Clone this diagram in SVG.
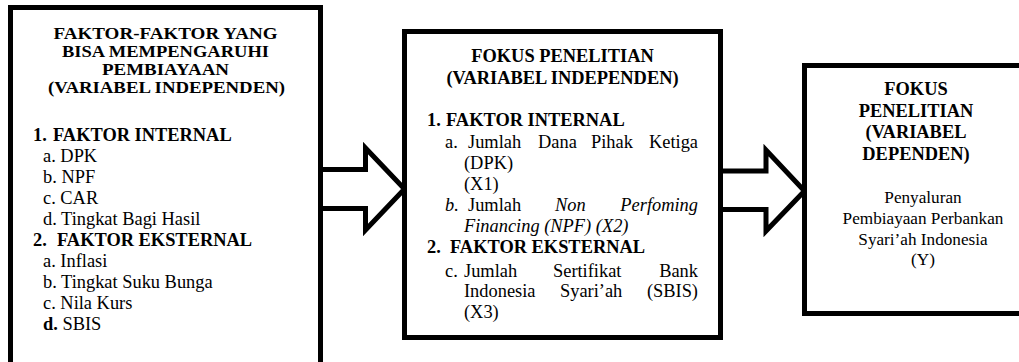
<svg xmlns="http://www.w3.org/2000/svg" width="1019" height="362" viewBox="0 0 1019 362">
  <style>
    .box { fill: #fff; stroke: #000; stroke-width: 5; }
    .arrow { fill: #fff; stroke: #000; stroke-width: 5; stroke-linejoin: miter; stroke-miterlimit: 10; }
    text { font-family: "Liberation Serif", "Times New Roman", serif; font-size: 18.4px; fill: #000; }
    .b { font-weight: bold; }
    .c { text-anchor: middle; }
    .i { font-style: italic; }
    .s { font-size: 17.2px; }
    .t { font-size: 16.6px; }
  </style>

  <rect width="1019" height="362" fill="#fff"/>

  <!-- connectors: block arrows between the boxes -->
  <g id="connectors">
    <polygon class="arrow" points="320.5,169.5 365.5,169.5 365.5,148 404.5,189 365.5,230 365.5,208.5 320.5,208.5"/>
    <polygon class="arrow" points="720.5,171 766,171 766,150 804.5,191 766,231 766,209.5 720.5,209.5"/>
  </g>

  <!-- factors that can affect financing -->
  <g id="faktor">
    <rect class="box" x="10.5" y="7.5" width="310" height="362"/>
    <text class="b c t" x="165.5" y="38.5" textLength="224" lengthAdjust="spacingAndGlyphs">FAKTOR-FAKTOR YANG</text>
    <text class="b c t" x="165.5" y="56.5" textLength="207" lengthAdjust="spacingAndGlyphs">BISA MEMPENGARUHI</text>
    <text class="b c t" x="165.5" y="74.5" textLength="127" lengthAdjust="spacingAndGlyphs">PEMBIAYAAN</text>
    <text class="b c t" x="166.5" y="92.5" textLength="237" lengthAdjust="spacingAndGlyphs">(VARIABEL INDEPENDEN)</text>
    <text class="b" y="141"><tspan x="33">1.</tspan><tspan x="53">FAKTOR INTERNAL</tspan></text>
    <text x="43" y="162">a. DPK</text>
    <text x="43" y="183">b. NPF</text>
    <text x="43" y="204">c. CAR</text>
    <text x="43" y="225">d. Tingkat Bagi Hasil</text>
    <text class="b" y="246"><tspan x="33">2.</tspan><tspan x="57">FAKTOR EKSTERNAL</tspan></text>
    <text x="43" y="267">a. Inflasi</text>
    <text x="43" y="288">b. Tingkat Suku Bunga</text>
    <text x="43" y="309">c. Nila Kurs</text>
    <text x="43" y="330"><tspan class="b">d.</tspan> SBIS</text>
  </g>

  <!-- research focus: independent variables -->
  <g id="fokus-independen">
    <rect class="box" x="404.5" y="31.5" width="316" height="306"/>
    <text class="b c" x="562.5" y="62">FOKUS PENELITIAN</text>
    <text class="b c" x="562.5" y="83.5">(VARIABEL INDEPENDEN)</text>
    <text class="b" y="126"><tspan x="427">1.</tspan><tspan x="446">FAKTOR INTERNAL</tspan></text>
    <text y="147.5"><tspan x="445">a.</tspan><tspan x="468">Jumlah</tspan><tspan x="538">Dana</tspan><tspan x="591">Pihak</tspan><tspan x="698" text-anchor="end">Ketiga</tspan></text>
    <text x="464" y="168.5">(DPK)</text>
    <text x="464" y="189.5">(X1)</text>
    <text y="210.5"><tspan x="445" class="i">b.</tspan><tspan x="468">Jumlah</tspan><tspan x="555" class="i">Non</tspan><tspan x="698" class="i" text-anchor="end">Perfoming</tspan></text>
    <text class="i" x="464" y="231.5">Financing (NPF) (X2)</text>
    <text class="b" y="253"><tspan x="427">2.</tspan><tspan x="450">FAKTOR EKSTERNAL</tspan></text>
    <text y="276.5"><tspan x="445">c.</tspan><tspan x="464">Jumlah</tspan><tspan x="553">Sertifikat</tspan><tspan x="698" text-anchor="end">Bank</tspan></text>
    <text y="296.5"><tspan x="464">Indonesia</tspan><tspan x="560">Syari’ah</tspan><tspan x="698" text-anchor="end">(SBIS)</tspan></text>
    <text x="464" y="317.5">(X3)</text>
  </g>

  <!-- research focus: dependent variable -->
  <g id="fokus-dependen">
    <rect class="box" x="804.5" y="65.5" width="230" height="248"/>
    <text class="b c" x="916" y="95">FOKUS</text>
    <text class="b c" x="916" y="116.5">PENELITIAN</text>
    <text class="b c" x="916" y="138">(VARIABEL</text>
    <text class="b c" x="916" y="160">DEPENDEN)</text>
    <text class="c s" x="923" y="202.5">Penyaluran</text>
    <text class="c s" x="923" y="223.5">Pembiayaan Perbankan</text>
    <text class="c s" x="923" y="245">Syari’ah Indonesia</text>
    <text class="c s" x="923" y="265">(Y)</text>
  </g>
</svg>
